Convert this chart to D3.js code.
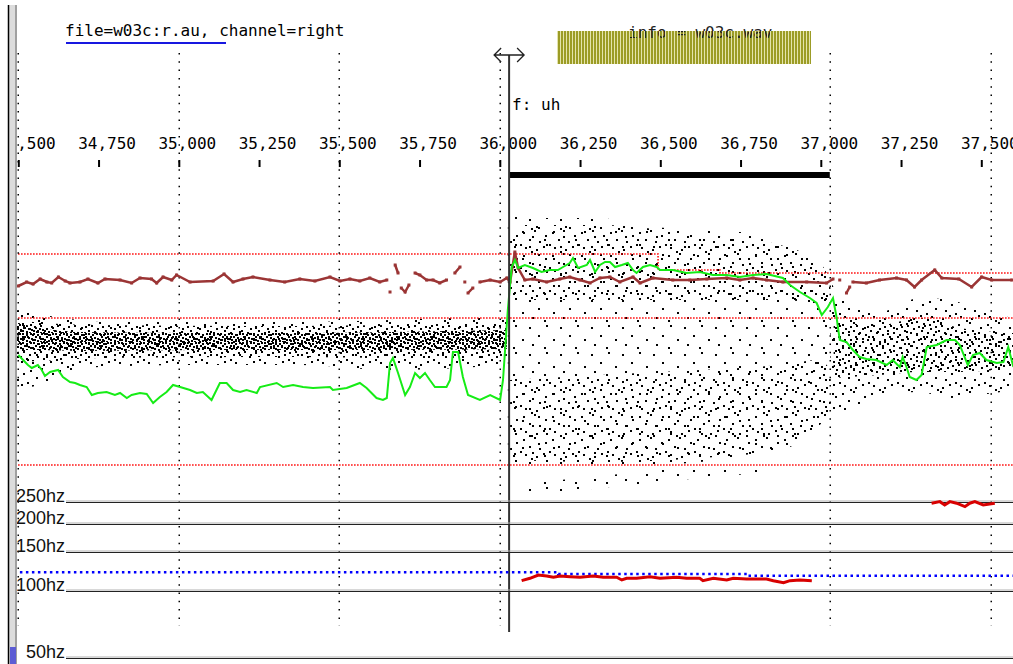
<!DOCTYPE html>
<html><head><meta charset="utf-8">
<script src="https://cdn.jsdelivr.net/npm/d3@7"></script>
<style>
html,body{margin:0;padding:0;background:#fff;overflow:hidden;}
svg{display:block;}
</style></head><body>
<svg id="chart" width="1013" height="664"></svg>
<script>
// ---------------- DATA ----------------
const titleText = "file=w03c:r.au, channel=right";
const infoText = "info = w03c.wav";
const segmentLabel = "f: uh";
const axisTicks = [34500,34750,35000,35250,35500,35750,36000,36250,36500,36750,37000,37250,37500];
const gridTimes = [34500,35000,35500,36000,37028,37530];
const cursorTime = 36029;
const segmentSpan = [36029, 37028];
const hzTicks = [250,200,150,100,50];

// green track (upper panel, arbitrary units)
const greenT = [34500,34515,34530,34542,34561,34573,34583,34599,34624,34639,34661,34677,34692,34713,34729,34748,34775,34801,34817,34838,34853,34879,34900,34920,34941,34962,34982,35004,35035,35056,35075,35102,35128,35149,35169,35191,35211,35243,35253,35305,35325,35356,35387,35418,35471,35480,35523,35564,35585,35616,35636,35648,35658,35667,35683,35705,35720,35736,35751,35767,35782,35798,35834,35845,35854,35870,35885,35901,35938,35970,36001,36010,36025,36037,36047,36057,36078,36103,36130,36156,36181,36197,36218,36228,36244,36271,36281,36297,36312,36328,36343,36359,36380,36399,36415,36426,36446,36468,36489,36499,36539,36582,36623,36664,36707,36748,36789,36831,36882,36904,36935,36966,36987,37003,37022,37038,37049,37059,37080,37100,37121,37142,37173,37205,37224,37246,37255,37267,37277,37298,37314,37330,37361,37392,37418,37433,37458,37474,37495,37516,37548,37569,37584,37600];
const greenV = [145,140,135,132,135,130,124,128,130,123,118,117,115,113,105,107,108,105,107,102,105,107,106,97,103,108,115,113,110,107,108,100,117,117,110,108,110,107,113,117,113,115,113,112,113,110,112,117,112,102,100,102,137,142,127,105,113,127,122,127,120,113,113,120,148,148,123,105,100,105,100,120,190,233,240,232,235,232,228,230,230,233,237,242,232,235,240,228,235,238,238,233,235,237,230,227,233,235,233,230,230,227,228,225,225,223,225,226,222,215,208,202,197,185,193,202,183,160,158,150,143,141,140,135,140,133,143,133,123,120,125,153,155,160,160,155,135,145,147,140,137,138,153,133];

// brown track (null = gap)
const brownT = [34500,34526,34546,34568,34589,34604,34625,34646,34661,34692,34717,34748,34770,34817,34853,34879,34915,34931,34951,34978,34993,35035,35107,35141,35169,35200,35231,35284,35330,35377,35424,35471,35502,35533,35564,35595,35626,35648,null,35658,null,35674,35683,null,35693,35705,35717,null,35736,35751,35772,35792,35813,35834,null,35860,35876,null,35891,null,35901,35916,null,35938,35970,36001,36022,36032,36047,36057,36078,36103,36146,36187,36218,36250,36281,36312,36343,36374,36415,36437,36477,36539,36592,36645,36707,36748,36789,36831,36882,36956,37018,37038,null,37059,null,37080,37090,null,37100,37142,37183,37236,37267,37292,37314,37355,37377,37430,37470,37501,37532,37595];
const brownV = [214,218,216,221,218,217,223,219,217,218,221,217,221,220,217,222,221,217,223,220,225,218,219,226,218,221,223,220,218,221,219,223,219,221,219,222,218,220,null,208,null,235,227,null,212,208,215,null,227,225,220,220,217,220,null,227,233,null,218,null,207,212,null,218,220,218,222,218,248,232,220,221,218,221,223,220,217,222,223,218,223,217,222,220,220,221,222,220,222,220,218,218,217,221,null,220,null,207,213,null,218,217,220,222,220,213,220,230,222,221,213,223,220,220];

// red pitch track (Hz)
const pitchT = [36068,36094,36120,36146,36167,36188,36219,36250,36291,36322,36364,36380,36395,36426,36468,36499,36551,36582,36623,36633,36665,36707,36727,36769,36831,36852,36884,36904,36935,36972];
const pitchHz = [110.9,113.7,117.6,116.5,114.9,116.5,115.6,114.9,116.5,114.9,114.9,111.7,113.7,113.7,115.6,113.7,114.9,113.7,113.7,110.9,113.7,111.7,113.7,112.9,112.9,110.9,108.6,110.9,111.7,110.9];
const pitch2T = [37345,37371,37386,37402,37423,37449,37464,37480,37506,37542];
const pitch2Hz = [247.6,251.7,243.2,251.7,247.6,239.0,247.6,251.7,243.2,247.6];

// blue reference (Hz, step)
const meanT = [34505,36182,36773,37600];
const meanHz = [121.0,118.9,116.8,116.8];

// red dotted thresholds (upper panel units)
const thrUpperT = [34490,36493,36686,37600];
const thrUpperV = [246,230,227,227];
const thrLevels = [182, 35];

// dot clouds: [time, low, high]
const cloudLeftOuter = [[34490,110,190],[34568,115,186],[34630,120,182],[34692,131,180],[34755,133,178],[35066,135,178],[35377,135,178],[35658,130,180],[35876,132,182],[36022,135,182]];
const cloudLeftMid   = [[34490,138,180],[34630,140,176],[34755,142,175],[35377,143,174],[35658,142,175],[36022,142,175]];
const cloudLeftCore  = [[34490,150,178],[34568,150,172],[34692,149,168],[35066,150,167],[35377,150,167],[35658,150,168],[36022,151,170]];
const cloudMidOuter  = [[36025,35,287],[36094,30,282],[36187,32,282],[36312,32,282],[36415,33,275],[36521,35,272],[36624,38,270],[36748,42,268],[36873,50,262],[36935,60,250],[36997,75,238],[37044,90,210]];
const cloudMidUpper  = [[36032,200,275],[36312,200,275],[36624,200,265],[36873,200,255],[36997,195,235],[37030,190,215]];
const cloudMidLower  = [[36032,40,120],[36312,38,125],[36624,42,130],[36873,50,135],[36997,75,140],[37030,88,130]];
const cloudMidArc    = [[36063,6,16],[36250,10,22],[36437,16,28],[36624,22,33],[36873,28,35]];
const cloudRightOuter= [[37030,85,205],[37121,95,195],[37183,105,188],[37308,108,202],[37402,102,200],[37495,105,190],[37600,110,182]];
const cloudRightCore = [[37040,122,178],[37183,125,175],[37308,128,182],[37433,128,172],[37600,132,167]];
const cloudRightInner= [[37060,137,165],[37200,135,162],[37400,138,162],[37600,140,160]];

// ---------------- CHART ----------------
const W = 1013, H = 664;
const svg = d3.select("#chart");
const MONO = "DejaVu Sans Mono";

const x = d3.scaleLinear().domain([34500, 37500]).range([18.3, 981.3]);
const yV = d3.scaleLinear().domain([0, 300]).range([500, 200]);
const yHz = d3.scaleLog().domain([50, 250]).range([657.5, 502.3]);

const defs = svg.append("defs");
defs.append("clipPath").attr("id","clipInner").append("rect").attr("x",17).attr("y",0).attr("width",W-17).attr("height",H);
function dotPattern(id, w, h, dots) {
  const p = defs.append("pattern").attr("id", id).attr("patternUnits","userSpaceOnUse").attr("width", w).attr("height", h);
  dots.forEach(([dx,dy]) => p.append("rect").attr("x",dx).attr("y",dy).attr("width",2).attr("height",2).attr("fill","#000"));
}
// texture tiles (style only)
dotPattern("dotsFaint", 31, 27, [[2,3],[19,1],[11,11],[26,15],[5,20],[17,23]]);
dotPattern("dotsSparse", 29, 23, [[1,2],[12,0],[23,5],[7,9],[17,11],[27,14],[3,17],[14,19],[21,16],[9,21]]);
dotPattern("dotsMid", 17, 13, [[0,1],[6,0],[12,3],[3,5],[9,7],[15,9],[5,11]]);
dotPattern("dotsDense", 11, 9, [[0,0],[4,1],[8,0],[2,3],[6,4],[9,5],[0,6],[4,7],[7,8]]);
// hatch for info box
const hp = defs.append("pattern").attr("id","hatch").attr("patternUnits","userSpaceOnUse").attr("width",3).attr("height",10);
hp.append("rect").attr("width",3).attr("height",10).attr("fill","#e4e4ac");
hp.append("rect").attr("width",2).attr("height",10).attr("fill","#9c9c26");
const hl = defs.append("pattern").attr("id","hatchLight").attr("patternUnits","userSpaceOnUse").attr("width",3).attr("height",10);
hl.append("rect").attr("x",2).attr("width",1).attr("height",10).attr("fill","#e4e4ac");

// left frame
svg.append("rect").attr("x",9).attr("y",5).attr("width",7).attr("height",H-5).attr("fill","#dcdcdc");
svg.append("line").attr("x1",8.5).attr("x2",8.5).attr("y1",5).attr("y2",H).attr("stroke","#000").attr("stroke-width",1.5);
svg.append("line").attr("x1",16).attr("x2",16).attr("y1",5).attr("y2",H).attr("stroke","#a0a0a0").attr("stroke-width",2);
svg.append("rect").attr("x",10).attr("y",647).attr("width",6).attr("height",H-647).attr("fill","#5c5cd4");

const inner = svg.append("g").attr("clip-path","url(#clipInner)");

// title
inner.append("text").attr("x",65).attr("y",36).attr("font-family",MONO).attr("font-size",16).text(titleText);
inner.append("rect").attr("x",66).attr("y",42).attr("width",160).attr("height",2).attr("fill","#1818e0");

// info box
inner.append("rect").attr("x",557).attr("y",31).attr("width",254).attr("height",33).attr("fill","url(#hatch)");
inner.append("text").attr("x",628).attr("y",37.5).attr("font-family",MONO).attr("font-size",16).attr("fill","#222").text(infoText);
inner.append("rect").attr("x",557).attr("y",31).attr("width",254).attr("height",33).attr("fill","url(#hatchLight)");

// clouds
const cloudArea = d3.area().x(d => x(d[0])).y0(d => yV(d[1])).y1(d => yV(d[2])).curve(d3.curveMonotoneX);
const clouds = [
  [cloudLeftOuter,"dotsSparse"],[cloudLeftMid,"dotsMid"],[cloudLeftCore,"dotsDense"],
  [cloudMidOuter,"dotsFaint"],[cloudMidUpper,"dotsSparse"],[cloudMidLower,"dotsSparse"],[cloudMidArc,"dotsFaint"],
  [cloudRightOuter,"dotsSparse"],[cloudRightCore,"dotsMid"],[cloudRightInner,"dotsSparse"]
];
clouds.forEach(([data, pat]) => inner.append("path").attr("d", cloudArea(data)).attr("fill", `url(#${pat})`));

// red dotted thresholds
const redDot = {stroke:"#ff0000", w:1.5, dash:"1.5,1.5"};
const thrLine = d3.line().x(d => x(d[0])).y(d => yV(d[1])).curve(d3.curveStepAfter);
inner.append("path").attr("d", thrLine(thrUpperT.map((t,i)=>[t,thrUpperV[i]])))
  .attr("fill","none").attr("stroke",redDot.stroke).attr("stroke-width",redDot.w).attr("stroke-dasharray",redDot.dash);
thrLevels.forEach(v => inner.append("line").attr("x1",x(34490)).attr("x2",W).attr("y1",yV(v)).attr("y2",yV(v))
  .attr("stroke",redDot.stroke).attr("stroke-width",redDot.w).attr("stroke-dasharray",redDot.dash));

// dotted vertical gridlines
gridTimes.forEach(t => inner.append("line").attr("x1",Math.round(x(t))+0.25).attr("x2",Math.round(x(t))+0.25).attr("y1",53).attr("y2",626)
  .attr("stroke","#000").attr("stroke-width",1.5).attr("stroke-dasharray","1.5,6.8"));

// axis
const axis = d3.axisBottom(x).tickValues(axisTicks).tickSize(7).tickFormat(d3.format(","));
const gAxis = inner.append("g").attr("transform","translate(0,160)").call(axis);
gAxis.attr("font-family",MONO).attr("font-size",16);
gAxis.select(".domain").remove();
gAxis.selectAll(".tick line").attr("stroke","#000").attr("stroke-width",2);
gAxis.selectAll(".tick text").attr("y",-11).attr("dy",0).attr("dx",8).attr("fill","#000");

// segment bar + label
inner.append("rect").attr("x",x(segmentSpan[0])).attr("y",172).attr("width",x(segmentSpan[1])-x(segmentSpan[0])).attr("height",6).attr("fill","#000");
inner.append("text").attr("x",x(cursorTime)+3).attr("y",110).attr("font-family",MONO).attr("font-size",16).text(segmentLabel);

// brown track
const brown = brownT.map((t,i)=>({t, v: brownV[i]}));
inner.append("path").datum(brown)
  .attr("d", d3.line().defined(d => d.v != null).x(d => x(d.t)).y(d => yV(d.v)))
  .attr("fill","none").attr("stroke","#9b3535").attr("stroke-width",2.5);
inner.selectAll(".bpt").data(brown.filter(d => d.v != null)).join("rect")
  .attr("x", d => x(d.t)-1.5).attr("y", d => yV(d.v)-1.5).attr("width",3).attr("height",3).attr("fill","#9b3535");

// green track
inner.append("path").datum(greenT.map((t,i)=>({t, v: greenV[i]})))
  .attr("d", d3.line().x(d => x(d.t)).y(d => yV(d.v)))
  .attr("fill","none").attr("stroke","#16ec16").attr("stroke-width",2);

// cursor
const cx = x(cursorTime);
inner.append("line").attr("x1",cx).attr("x2",cx).attr("y1",55).attr("y2",632).attr("stroke","#333").attr("stroke-width",2);
inner.append("path").attr("d",`M${cx-15},55H${cx+15}M${cx-8},48L${cx-15},55L${cx-8},62M${cx+8},48L${cx+15},55L${cx+8},62`)
  .attr("fill","none").attr("stroke","#222").attr("stroke-width",1.3);

// hz lines + labels
hzTicks.forEach(hz => {
  const y = Math.round(yHz(hz));
  inner.append("line").attr("x1",66).attr("x2",W).attr("y1",y-1).attr("y2",y-1).attr("stroke","#b0b0b0").attr("stroke-width",1);
  inner.append("line").attr("x1",66).attr("x2",W).attr("y1",y+0.5).attr("y2",y+0.5).attr("stroke","#222").attr("stroke-width",1.2);
  inner.append("text").attr("x",65).attr("y",y).attr("text-anchor","end")
    .attr("font-family","Liberation Sans").attr("font-size",18).attr("fill","#111").text(hz + "hz");
});

// blue step reference
inner.append("path").attr("d", d3.line().x(d => x(d[0])).y(d => yHz(d[1])).curve(d3.curveStepAfter)(meanT.map((t,i)=>[t,meanHz[i]])))
  .attr("fill","none").attr("stroke","#0000ff").attr("stroke-width",2.5).attr("stroke-dasharray","2.5,3.5");

// red pitch tracks
const pitchLine = d3.line().x(d => x(d[0])).y(d => yHz(d[1]));
[[pitchT,pitchHz],[pitch2T,pitch2Hz]].forEach(([ts,hs]) => {
  inner.append("path").attr("d", pitchLine(ts.map((t,i)=>[t,hs[i]])))
    .attr("fill","none").attr("stroke","#d80000").attr("stroke-width",3);
});
</script>
</body></html>
